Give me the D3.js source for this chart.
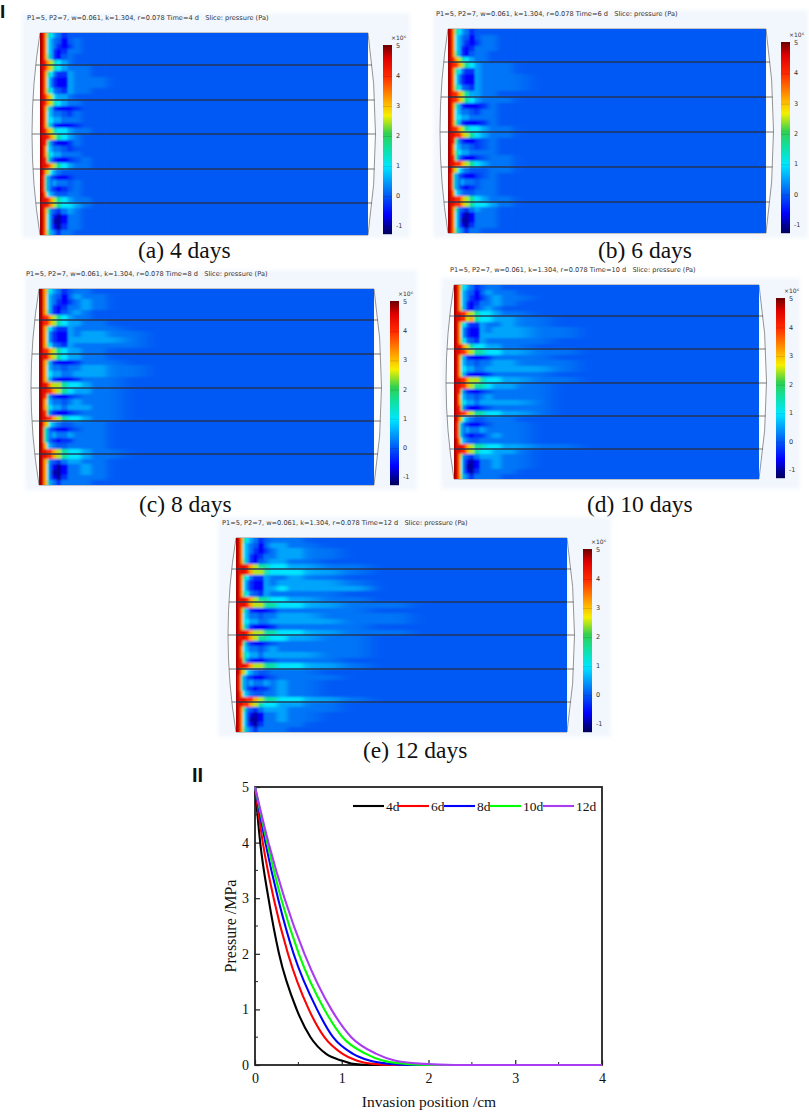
<!DOCTYPE html>
<html lang="en">
<head>
<meta charset="UTF-8">
<title>Pressure invasion</title>
<style>
  body, html { margin: 0; padding: 0; background: #fff; }
  svg { display: block; }
  .serif { font-family: "Liberation Serif", serif; fill: #111; }
  .small { font-family: "DejaVu Sans", sans-serif; fill: #333; white-space: pre; }
</style>
</head>
<body>
<script src="https://d3js.org/d3.v7.min.js"></script>
<script>
// ---- data: slices ----
const sliceDays = [4, 6, 8, 10, 12];
const sliceLetters = ["a", "b", "c", "d", "e"];
// position in cm of the column edges of each slice's cells
const colEdges = [0, .03, .06, .09, .12, .16, .2, .26, .32, .4, .5, .62, .78, .98, 1.25, 1.6, 2.1, 2.8, 4];
// pressure (x10^6 Pa) for each level code used in the rows below (code = hex digit)
const levels = [-0.95, -0.6, -0.25, 0.03, 0.22, 0.55, 1, 1.6, 2.5, 3.2, 4, 4.5, 4.85];
const rowsPerChannel = 6;
// each string is a row of cells; missing cells on the right are background level 3
const field4d = [
  "cb97654233", "cb96543134", "cb96542124", "cb96521244", "cb9752134", "cba98765433",
  "cba987654443", "cb9764225443", "cb9642115444", "cb9642115444", "cb9764325443", "cba986554333",
  "cba98765443", "cb97521112", "cb96544324", "cb96655444", "cb97521112", "cba98766544",
  "cbba98765433", "cba7421124", "cb96544323", "cb97655444", "cba74211234", "cbba9876544",
  "cb98654333", "ca75321123", "ca75454434", "ca75321234", "cb96543344", "cbba98765443",
  "cbba98766543", "cb97432454", "cb96310144", "cb96300144", "cb96310244", "cb97542443"];
const field6d = [
  "cb976542333", "cb965431344", "cb9654212443", "cb9652124443", "cb97521344", "cba987654433",
  "cbaa98765444", "cb97642254443", "cb964211544443", "cb964211544443", "cb976432544443", "cbaa98755443",
  "cbaa98765444", "cb975211124", "cb965443244", "cb966554444", "cb975211124", "cbaa98766544",
  "cbbaa9876544", "cba74211234", "cb965443234", "cb976554444", "cba742112344", "cbbaa9876544",
  "cb9865433344", "ca753211234", "ca754544344", "ca753212344", "cb965433444", "cbbaa9876544",
  "cbbaa9876654", "cb974324544", "cb963101444", "cb963001444", "cb963102444", "cb975424433"];
const field8d = [
  "cb976542344", "cb9654313544", "cb96542124543", "cb96521244543", "cb97521345433", "cbaa98765443",
  "cbaa987655443", "cb97642254444", "cb964211545544", "cb964211555554", "cb976432544444", "cbaa987655443",
  "cbba987655443", "cb975211124443", "cb965443445544", "cb966554455544", "cb975211124443", "cbba98876654433",
  "cbbaa98765544", "cba7421123444", "cb96544345444", "cb97655455544", "cba7421123444", "cbbaa98766544",
  "cb9865433444", "ca7532112344", "ca7545445444", "ca7532122444", "cb96543344443", "cbbaa987665443",
  "cbbaa98766544", "cb9743245544", "cb96310144543", "cb96300144543", "cb96310244443", "cb97542444433"];
const field10d = [
  "cb9765423443", "cb96543135443", "cb965421245443", "cb965212445433", "cb975213454333", "cbbaa987665443",
  "cbbaa8976655443", "cb976422544544", "cb9642115455544", "cb9642115555544", "cb9764325444443", "cbba9876655443",
  "cbbaa98776655443", "cb9752111244443", "cb9654434455444", "cb9665544555554", "cb9752111244443", "cbbaa98876655443",
  "cbbaa98776554433", "cba74211234444", "cb965443454444", "cb976554555554", "cba74211234444", "cbbaa98776655433",
  "cb98654334443", "ca75321123444", "ca75454454444", "ca75321224544", "cb965433444443", "cbbba98776655443",
  "cbbaa98766554", "cb97432455544", "cb963101445443", "cb963001445443", "cb963102444433", "cb975424444333"];
const field12d = [
  "cb97654234443", "cb965431355443", "cb9654212455443", "cb9652124455443", "cb9752134554433", "cbbba9877665544",
  "cbbba9887666554", "cb9764225445443", "cb9642115455554", "cb9642115565555", "cb97643254444433", "cbbba9877665544",
  "cbbba98877665544", "cb97521112444443", "cb96544344555444", "cb96655445555544", "cb97521112444443", "cbbba98877665544",
  "cbbba98776655443", "cba742112344444", "cb9654434544444", "cb97655455555443", "cba742112344443", "cbbba98877665543",
  "cb986543344443", "ca753211234444", "ca754544545443", "ca753212245443", "cb9654334454433", "cbbbaa987766554",
  "cbbaa9876655443", "cb974324555444", "cb9631014454433", "cb9630014454433", "cb9631024444333", "cb9754244443333"];
const sliceFields = [field4d, field6d, field8d, field10d, field12d];
const barTicks = [5, 4, 3, 2, 1, 0, -1];

// ---- data: line chart ----
const curveDays = ["4d", "6d", "8d", "10d", "12d"];
const pressure4d = [[0, 5], [.06, 4], [.155, 3], [.277, 2], [.48, 1], [.64, .5], [.82, .2], [1, .08], [1.13, .02], [1.3, 0], [4, 0]];
const pressure6d = [[0, 5], [.09, 4], [.215, 3], [.38, 2], [.62, 1], [.8, .5], [1.01, .2], [1.17, .08], [1.36, .02], [1.6, 0], [4, 0]];
const pressure8d = [[0, 5], [.12, 4], [.265, 3], [.445, 2], [.715, 1], [.9, .5], [1.13, .2], [1.32, .08], [1.55, .02], [1.8, 0], [4, 0]];
const pressure10d = [[0, 5], [.14, 4], [.3, 3], [.505, 2], [.8, 1], [1.01, .5], [1.28, .2], [1.47, .08], [1.74, .02], [2, 0], [4, 0]];
const pressure12d = [[0, 5], [.155, 4], [.34, 3], [.57, 2], [.88, 1], [1.11, .5], [1.4, .2], [1.61, .08], [1.94, .02], [2.3, 0], [4, 0]];
const curves = [pressure4d, pressure6d, pressure8d, pressure10d, pressure12d];
const curveColors = ["#000000", "#ff0000", "#0000ff", "#00ff00", "#a83cf0"];
const xTicks = [0, 1, 2, 3, 4];
const yTicks = [0, 1, 2, 3, 4, 5];

// ---- layout ----
const panelLayout = [
  { bg: [22, 13, 410, 238], field: [40, 33, 368, 235], lines: [65, 100, 134, 169, 203], bar: [383, 392, 45, 234], title: [27, 20], caption: [138, 258] },
  { bg: [433, 10, 808, 238], field: [448, 29, 766, 233], lines: [62, 97, 132, 167, 202], bar: [781, 790, 42, 233], title: [436, 16], caption: [598, 258] },
  { bg: [25, 270, 417, 490], field: [39, 289, 374, 485], lines: [320, 354, 388, 421, 454], bar: [390, 399, 301, 485], title: [26, 276], caption: [139, 512] },
  { bg: [441, 278, 800, 489], field: [454, 285, 759, 479], lines: [316, 349, 383, 416, 449], bar: [776, 785, 298, 478], title: [450, 272], caption: [587, 512] },
  { bg: [218, 517, 611, 737], field: [236, 538, 567, 732], lines: [569, 602, 635, 669, 702], bar: [583, 592, 549, 732], title: [222, 525], caption: [363, 758] }
];
// lens bulge control offsets (px), left and right of the field
const bulgeLeft = 16, bulgeRight = 15;

const svg = d3.select("body").append("svg").attr("width", 809).attr("height", 1112);
const defs = svg.append("defs");
function addBlur(id, dev) {
  defs.append("filter").attr("id", id)
    .attr("filterUnits", "userSpaceOnUse")
    .attr("x", 0).attr("y", 0).attr("width", 809).attr("height", 1112)
    .append("feGaussianBlur").attr("stdDeviation", dev);
}
addBlur("blurFar", "9 1.3");
addBlur("blurMid", "2.6 1");
addBlur("blurNear", "0.8");
addBlur("blurBg", "2");

// COMSOL rainbow as seen on the colour bar
const color = d3.scaleLinear()
  .domain([-1.25, -0.6, 0.0, 1, 1.6, 2.1, 2.7, 3.1, 4, 4.6, 5.05])
  .range(["#00005a", "#0000ff", "#0055f5", "#00e6ff", "#10e0a0", "#30d050", "#f5f000", "#ffb400", "#ff2a00", "#e00000", "#6e0000"]);

panelLayout.forEach((p, i) => {
  const g = svg.append("g");
  const [fx0, fy0, fx1, fy1] = p.field;
  const midY = (fy0 + fy1) / 2;

  g.append("rect")
    .attr("x", p.bg[0]).attr("y", p.bg[1])
    .attr("width", p.bg[2] - p.bg[0]).attr("height", p.bg[3] - p.bg[1])
    .attr("fill", "#f2f7fd").attr("filter", "url(#blurBg)");

  g.append("text").attr("class", "small")
    .attr("x", p.title[0]).attr("y", p.title[1])
    .attr("font-size", 6.6)
    .text(`P1=5, P2=7, w=0.061, k=1.304, r=0.078 Time=${sliceDays[i]} d   Slice: pressure (Pa)`);

  // white lens behind the field and its outline
  const lens = `M${fx0},${fy0}Q${fx0 - bulgeLeft},${midY} ${fx0},${fy1}L${fx1},${fy1}Q${fx1 + bulgeRight},${midY} ${fx1},${fy0}Z`;
  g.append("path").attr("d", lens).attr("fill", "#fbfdff").attr("stroke", "#666").attr("stroke-width", .7);

  // field cells, in three layers: wide cells need more smoothing than the thin ones at the wall
  const x = d3.scaleLinear().domain([0, 4]).range([fx0, fx1]);
  const y = d3.scaleLinear().domain(d3.range(7).map(k => k * rowsPerChannel)).range([fy0, ...p.lines, fy1]);
  const nCols = colEdges.length - 1;
  const nRows = rowsPerChannel * 6;
  const cells = [];
  sliceFields[i].forEach((row, r) => {
    row.padEnd(nCols, "3").split("").forEach((ch, c) => {
      cells.push({ r, c, v: levels[parseInt(ch, 16)] });
    });
  });
  const clipId = "clip" + sliceLetters[i];
  defs.append("clipPath").attr("id", clipId).append("rect")
    .attr("x", fx0).attr("y", fy0).attr("width", fx1 - fx0).attr("height", fy1 - fy0);
  const fieldG = g.append("g").attr("clip-path", `url(#${clipId})`);
  fieldG.append("rect").attr("x", fx0).attr("y", fy0)
    .attr("width", fx1 - fx0).attr("height", fy1 - fy0).attr("fill", color(levels[3]));
  [["blurFar", nCols], ["blurMid", 12], ["blurNear", 8]].forEach(([blur, maxCol]) => {
    fieldG.append("g").attr("filter", `url(#${blur})`).attr("shape-rendering", "crispEdges")
      .selectAll("rect").data(cells.filter(d => d.c < maxCol)).enter().append("rect")
      .attr("x", d => x(colEdges[d.c]) - (d.c === 0 ? 30 : 0))
      .attr("width", d => x(colEdges[d.c + 1]) - x(colEdges[d.c]) + (d.c === 0 ? 30 : d.c === nCols - 1 ? 30 : 1))
      .attr("y", d => y(d.r) - (d.r === 0 ? 8 : 0))
      .attr("height", d => y(d.r + 1) - y(d.r) + (d.r === 0 || d.r === nRows - 1 ? 8 : 1))
      .attr("fill", d => color(d.v));
  });

  // channel lines, gray where they cross the lens
  const bend = (yy, b) => { const t = (yy - fy0) / (fy1 - fy0); return b * 2 * t * (1 - t); };
  g.selectAll(".stub").data(p.lines).enter().append("line")
    .attr("x1", d => fx0 - bend(d, bulgeLeft)).attr("x2", d => fx1 + bend(d, bulgeRight))
    .attr("y1", d => d).attr("y2", d => d)
    .attr("stroke", "#555").attr("stroke-width", .8);
  g.selectAll(".chan").data(p.lines).enter().append("line")
    .attr("x1", fx0).attr("x2", fx1)
    .attr("y1", d => d).attr("y2", d => d)
    .attr("stroke", "#10244c").attr("stroke-width", 1.1);

  // colour bar
  const barScale = d3.scaleLinear().domain([-1.25, 5.05]).range([p.bar[3], p.bar[2]]);
  g.append("g").selectAll("rect").data(d3.range(p.bar[2], p.bar[3])).enter().append("rect")
    .attr("x", p.bar[0]).attr("width", p.bar[1] - p.bar[0])
    .attr("y", d => d).attr("height", 1.2)
    .attr("fill", d => color(barScale.invert(d + .5)));
  g.append("g").selectAll("text").data(barTicks).enter().append("text")
    .attr("class", "small").attr("font-size", 6.5)
    .attr("x", p.bar[1] + 4).attr("y", d => barScale(d) + 1.5)
    .text(d => d);
  g.append("g").selectAll("line").data(barTicks).enter().append("line")
    .attr("x1", p.bar[0]).attr("x2", p.bar[1])
    .attr("y1", d => barScale(d)).attr("y2", d => barScale(d))
    .attr("stroke", "#000").attr("stroke-opacity", .2).attr("stroke-width", .6);
  g.append("text").attr("class", "small").attr("font-size", 6)
    .attr("x", p.bar[1] - 1).attr("y", p.bar[2] - 5)
    .text("×10⁶");

  svg.append("text").attr("class", "serif").attr("font-size", 23.5)
    .attr("x", p.caption[0]).attr("y", p.caption[1])
    .text(`(${sliceLetters[i]}) ${sliceDays[i]} days`);
});

// section marks
svg.append("text").attr("x", 0).attr("y", 18).attr("font-family", "Liberation Sans")
  .attr("font-weight", "bold").attr("font-size", 19).attr("fill", "#111").text("I");
svg.append("text").attr("x", 192).attr("y", 782).attr("font-family", "Liberation Sans")
  .attr("font-weight", "bold").attr("font-size", 20).attr("fill", "#111").text("II");

// ---- line chart ----
const plot = { left: 255, right: 602, top: 787, bottom: 1065 };
const xScale = d3.scaleLinear().domain([0, 4]).range([plot.left, plot.right]);
const yScale = d3.scaleLinear().domain([0, 5]).range([plot.bottom, plot.top]);
const line = d3.line().x(d => xScale(d[0])).y(d => yScale(d[1])).curve(d3.curveMonotoneX);

const xAxis = svg.append("g").attr("transform", `translate(0,${plot.bottom})`)
  .call(d3.axisBottom(xScale).tickValues(xTicks).tickFormat(d3.format("d")).tickSizeInner(-5).tickSizeOuter(0).tickPadding(8));
const yAxis = svg.append("g").attr("transform", `translate(${plot.left},0)`)
  .call(d3.axisLeft(yScale).tickValues(yTicks).tickFormat(d3.format("d")).tickSizeInner(-5).tickSizeOuter(0).tickPadding(6));
[xAxis, yAxis].forEach(a => {
  a.selectAll("text").attr("font-family", "Liberation Serif").attr("font-size", 14).attr("fill", "#111");
  a.selectAll("line").attr("stroke", "#222").attr("stroke-width", 1.2);
  a.select(".domain").attr("stroke", "none");
});
// minor ticks at every half unit
svg.append("g").selectAll("line").data([.5, 1.5, 2.5, 3.5]).enter().append("line")
  .attr("x1", d => xScale(d)).attr("x2", d => xScale(d))
  .attr("y1", plot.bottom).attr("y2", plot.bottom - 3).attr("stroke", "#222");
svg.append("g").selectAll("line").data([.5, 1.5, 2.5, 3.5, 4.5]).enter().append("line")
  .attr("y1", d => yScale(d)).attr("y2", d => yScale(d))
  .attr("x1", plot.left).attr("x2", plot.left + 3).attr("stroke", "#222");

svg.append("rect")
  .attr("x", plot.left).attr("y", plot.top)
  .attr("width", plot.right - plot.left).attr("height", plot.bottom - plot.top)
  .attr("fill", "none").attr("stroke", "#222").attr("stroke-width", 1.8);

// curves go over the frame: the 12d line stays visible along the bottom edge
svg.append("g").selectAll("path").data(curves).enter().append("path")
  .attr("d", line).attr("fill", "none")
  .attr("stroke", (d, i) => curveColors[i]).attr("stroke-width", 2.1);

// legend: each key is drawn over the end of the previous label, as in the figure
const legendStart = [353, 398, 444, 490, 543];
const legendG = svg.append("g");
curveDays.forEach((name, i) => {
  legendG.append("text").attr("class", "serif").attr("font-size", 13.5)
    .attr("x", legendStart[i] + 33).attr("y", 811).text(name);
});
curveDays.forEach((name, i) => {
  legendG.append("line")
    .attr("x1", legendStart[i]).attr("x2", legendStart[i] + 31)
    .attr("y1", 806).attr("y2", 806)
    .attr("stroke", curveColors[i]).attr("stroke-width", 2.1);
});

svg.append("text").attr("class", "serif").attr("font-size", 15.5)
  .attr("text-anchor", "middle").attr("x", 429).attr("y", 1107)
  .text("Invasion position /cm");
svg.append("text").attr("class", "serif").attr("font-size", 16)
  .attr("text-anchor", "middle")
  .attr("transform", "translate(236,926) rotate(-90)")
  .text("Pressure /MPa");
</script>
</body>
</html>
